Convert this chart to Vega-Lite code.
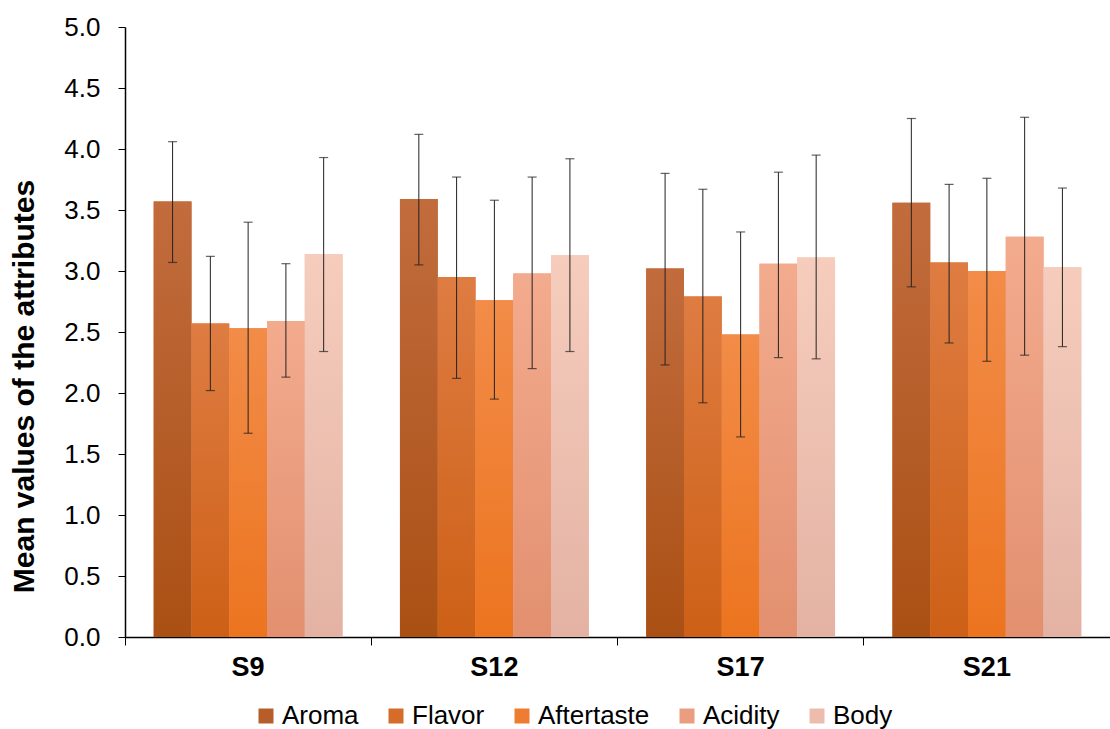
{
  "$schema": "https://vega.github.io/schema/vega-lite/v6.json",
  "width": 985,
  "height": 610,
  "autosize": "none",
  "padding": {"left": 125, "top": 27, "right": 0, "bottom": 92},
  "background": "white",
  "config": {"view": {"stroke": null}, "font": "Liberation Sans"},
  "data": {
    "values": [
      {"sample": "S9", "attr": "Aroma", "mean": 3.57, "lo": 3.07, "hi": 4.06},
      {"sample": "S9", "attr": "Flavor", "mean": 2.57, "lo": 2.02, "hi": 3.12},
      {"sample": "S9", "attr": "Aftertaste", "mean": 2.53, "lo": 1.67, "hi": 3.40},
      {"sample": "S9", "attr": "Acidity", "mean": 2.59, "lo": 2.13, "hi": 3.06},
      {"sample": "S9", "attr": "Body", "mean": 3.14, "lo": 2.34, "hi": 3.93},
      {"sample": "S12", "attr": "Aroma", "mean": 3.59, "lo": 3.05, "hi": 4.12},
      {"sample": "S12", "attr": "Flavor", "mean": 2.95, "lo": 2.12, "hi": 3.77},
      {"sample": "S12", "attr": "Aftertaste", "mean": 2.76, "lo": 1.95, "hi": 3.58},
      {"sample": "S12", "attr": "Acidity", "mean": 2.98, "lo": 2.20, "hi": 3.77},
      {"sample": "S12", "attr": "Body", "mean": 3.13, "lo": 2.34, "hi": 3.92},
      {"sample": "S17", "attr": "Aroma", "mean": 3.02, "lo": 2.23, "hi": 3.80},
      {"sample": "S17", "attr": "Flavor", "mean": 2.79, "lo": 1.92, "hi": 3.67},
      {"sample": "S17", "attr": "Aftertaste", "mean": 2.48, "lo": 1.64, "hi": 3.32},
      {"sample": "S17", "attr": "Acidity", "mean": 3.06, "lo": 2.29, "hi": 3.81},
      {"sample": "S17", "attr": "Body", "mean": 3.11, "lo": 2.28, "hi": 3.95},
      {"sample": "S21", "attr": "Aroma", "mean": 3.56, "lo": 2.87, "hi": 4.25},
      {"sample": "S21", "attr": "Flavor", "mean": 3.07, "lo": 2.41, "hi": 3.71},
      {"sample": "S21", "attr": "Aftertaste", "mean": 3.00, "lo": 2.26, "hi": 3.76},
      {"sample": "S21", "attr": "Acidity", "mean": 3.28, "lo": 2.31, "hi": 4.26},
      {"sample": "S21", "attr": "Body", "mean": 3.03, "lo": 2.38, "hi": 3.68}
    ]
  },
  "encoding": {
    "x": {
      "field": "sample",
      "type": "nominal",
      "sort": ["S9", "S12", "S17", "S21"],
      "scale": {"paddingInner": 0, "paddingOuter": 0},
      "axis": {
        "title": null,
        "bandPosition": 0,
        "labelAngle": 0,
        "labelFontSize": 27,
        "labelFontWeight": "bold",
        "labelColor": "black",
        "labelPadding": 9,
        "tickSize": 8,
        "tickColor": "black",
        "domainColor": "black",
        "domainWidth": 1.5,
        "grid": false
      }
    },
    "xOffset": {
      "field": "attr",
      "type": "nominal",
      "sort": ["Aroma", "Flavor", "Aftertaste", "Acidity", "Body"],
      "scale": {"domain": ["Aroma", "Flavor", "Aftertaste", "Acidity", "Body"], "paddingInner": 0, "paddingOuter": 0.76}
    },
    "y": {
      "field": "mean",
      "type": "quantitative",
      "scale": {"domain": [0, 5], "nice": false},
      "axis": {
        "values": [0, 0.5, 1, 1.5, 2, 2.5, 3, 3.5, 4, 4.5, 5],
        "format": ".1f",
        "grid": false,
        "labelFontSize": 26,
        "labelColor": "black",
        "labelPadding": 18,
        "tickSize": 7,
        "tickColor": "black",
        "domainColor": "black",
        "domainWidth": 1.5,
        "title": "Mean values of the attributes",
        "titleFontSize": 30,
        "titleFontWeight": "bold",
        "titleColor": "black",
        "titleX": -92,
        "titleY": 359,
        "titleAngle": -90,
        "titleAlign": "center",
        "titleBaseline": "alphabetic"
      }
    }
  },
  "layer": [
    {
      "mark": {"type": "bar"},
      "encoding": {
        "color": {
          "field": "attr",
          "type": "nominal",
          "sort": ["Aroma", "Flavor", "Aftertaste", "Acidity", "Body"],
          "scale": {
            "domain": ["Aroma", "Flavor", "Aftertaste", "Acidity", "Body"],
            "range": ["#B65E2A", "#D66C2A", "#EF7D31", "#EB9D7F", "#ECBDAD"]
          },
          "legend": {
            "title": null,
            "orient": "none",
            "legendX": 128,
            "legendY": 676,
            "direction": "horizontal",
            "symbolType": "square",
            "symbolSize": 225,
            "symbolStrokeWidth": 0,
            "labelOffset": 3,
            "labelFontSize": 26,
            "labelColor": "black",
            "columnPadding": 24
          }
        }
      }
    },
    {
      "transform": [{"filter": "datum.attr === 'Aroma'"}],
      "mark": {"type": "bar", "color": {"gradient": "linear", "x1": 0, "y1": 0, "x2": 0, "y2": 1, "stops": [{"offset": 0, "color": "#C26C3E"}, {"offset": 1, "color": "#AA5014"}]}},
      "encoding": {}
    },
    {
      "transform": [{"filter": "datum.attr === 'Flavor'"}],
      "mark": {"type": "bar", "color": {"gradient": "linear", "x1": 0, "y1": 0, "x2": 0, "y2": 1, "stops": [{"offset": 0, "color": "#DE7C42"}, {"offset": 1, "color": "#CD6016"}]}},
      "encoding": {}
    },
    {
      "transform": [{"filter": "datum.attr === 'Aftertaste'"}],
      "mark": {"type": "bar", "color": {"gradient": "linear", "x1": 0, "y1": 0, "x2": 0, "y2": 1, "stops": [{"offset": 0, "color": "#F28C48"}, {"offset": 1, "color": "#EC741F"}]}},
      "encoding": {}
    },
    {
      "transform": [{"filter": "datum.attr === 'Acidity'"}],
      "mark": {"type": "bar", "color": {"gradient": "linear", "x1": 0, "y1": 0, "x2": 0, "y2": 1, "stops": [{"offset": 0, "color": "#F3AB8E"}, {"offset": 1, "color": "#E2906F"}]}},
      "encoding": {}
    },
    {
      "transform": [{"filter": "datum.attr === 'Body'"}],
      "mark": {"type": "bar", "color": {"gradient": "linear", "x1": 0, "y1": 0, "x2": 0, "y2": 1, "stops": [{"offset": 0, "color": "#F6CDBD"}, {"offset": 1, "color": "#E3B2A3"}]}},
      "encoding": {}
    },
    {
      "mark": {"type": "rule", "color": "#222222", "strokeWidth": 1},
      "encoding": {
        "y": {"field": "lo", "type": "quantitative"},
        "y2": {"field": "hi"}
      }
    },
    {
      "mark": {"type": "tick", "color": "#222222", "thickness": 1.2, "size": 9},
      "encoding": {"y": {"field": "lo", "type": "quantitative"}}
    },
    {
      "mark": {"type": "tick", "color": "#222222", "thickness": 1.2, "size": 9},
      "encoding": {"y": {"field": "hi", "type": "quantitative"}}
    }
  ]
}
